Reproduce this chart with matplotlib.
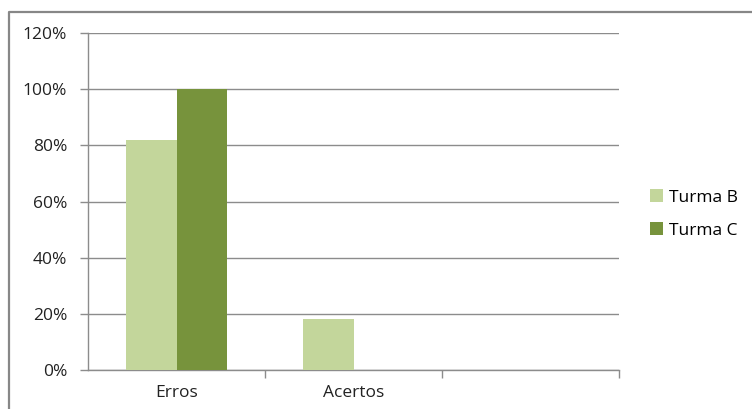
import matplotlib
matplotlib.use('Agg')
import matplotlib.pyplot as plt
import numpy as np
from matplotlib.lines import Line2D
from matplotlib.ticker import PercentFormatter

categories = ['Erros', 'Acertos', '']
turma_b = [82, 18, 0]
turma_c = [100, 0, 0]
series = ['Turma B', 'Turma C']

plt.rcParams['font.family'] = ['Open Sans', 'DejaVu Sans']

c_b = '#C3D69B'
c_c = '#77933C'
grid_c = '#8C8C8C'
txt_c = '#222222'
fs = 12.5

fig = plt.figure(figsize=(7.52, 4.09), dpi=100)
ax = fig.add_axes([88 / 752, 39 / 409, 531 / 752, 337 / 409])

x = np.arange(len(categories))
w = 0.288
ax.bar(x - w / 2, turma_b, width=w, color=c_b, label=series[0], zorder=3)
ax.bar(x + w / 2, turma_c, width=w, color=c_c, label=series[1], zorder=3)

ax.set_xlim(-0.5, len(categories) - 0.5)
ax.set_ylim(0, 120)
ax.set_yticks(np.arange(0, 121, 20))
ax.yaxis.set_major_formatter(PercentFormatter(decimals=0))
ax.yaxis.grid(True, color=grid_c, linewidth=1.0, zorder=0)
ax.set_axisbelow(True)

# category labels centred, ticks on the category boundaries
ax.set_xticks(x)
ax.set_xticklabels(categories)
ax.set_xticks(np.arange(0.5, len(categories)), minor=True)
ax.tick_params(axis='x', which='major', length=0, pad=11, labelsize=fs, labelcolor=txt_c)
ax.tick_params(axis='x', which='minor', length=6, width=1, color=grid_c, direction='out')
ax.tick_params(axis='y', length=6, width=1, color=grid_c, pad=9, labelsize=fs, labelcolor=txt_c)

for s in ['top', 'right']:
    ax.spines[s].set_visible(False)
for s in ['left', 'bottom']:
    ax.spines[s].set_color(grid_c)
    ax.spines[s].set_linewidth(1.0)

ax.legend(loc='center left', bbox_to_anchor=(650 / 752, 195 / 409),
          bbox_transform=fig.transFigure, frameon=False, fontsize=fs,
          handlelength=0.75, handleheight=0.75, handletextpad=0.35,
          labelspacing=0.95, borderaxespad=0, borderpad=0)

# chart area border (left and top edges)
fig.add_artist(Line2D([8.5 / 752, 8.5 / 752, 1.0], [0, 1 - 11.5 / 409, 1 - 11.5 / 409],
                      transform=fig.transFigure, color='#878787', linewidth=1.6))

fig.savefig('out.png', dpi=100)
plt.close(fig)
